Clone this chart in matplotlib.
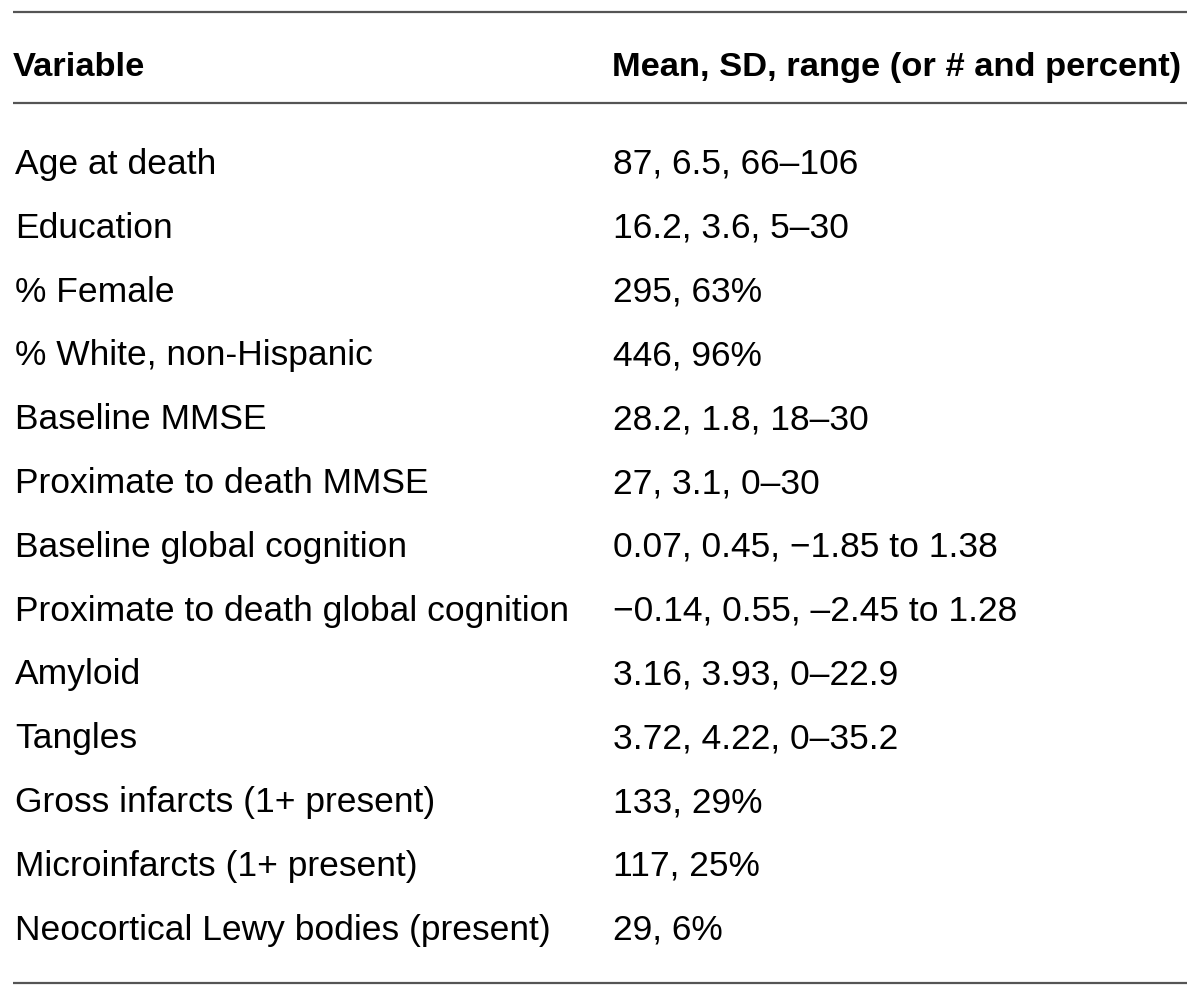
import matplotlib
matplotlib.use("Agg")
from matplotlib import pyplot as plt

# ------------------------------------------------
# Table content
# ------------------------------------------------
header_left = "Variable"
header_right = "Mean, SD, range (or # and percent)"

variables = [
    "Age at death",
    "Education",
    "% Female",
    "% White, non-Hispanic",
    "Baseline MMSE",
    "Proximate to death MMSE",
    "Baseline global cognition",
    "Proximate to death global cognition",
    "Amyloid",
    "Tangles",
    "Gross infarcts (1+ present)",
    "Microinfarcts (1+ present)",
    "Neocortical Lewy bodies (present)",
]

values = [
    "87, 6.5, 66\u2013106",
    "16.2, 3.6, 5\u201330",
    "295, 63%",
    "446, 96%",
    "28.2, 1.8, 18\u201330",
    "27, 3.1, 0\u201330",
    "0.07, 0.45, \u22121.85 to 1.38",
    "\u22120.14, 0.55, \u20132.45 to 1.28",
    "3.16, 3.93, 0\u201322.9",
    "3.72, 4.22, 0\u201335.2",
    "133, 29%",
    "117, 25%",
    "29, 6%",
]

# ------------------------------------------------
# Figure in pixel coordinates
# ------------------------------------------------
W, H = 1200, 997
fig = plt.figure(figsize=(W / 100, H / 100), dpi=100)
ax = fig.add_axes([0, 0, 1, 1])
ax.set_xlim(0, W)
ax.set_ylim(H, 0)
ax.axis("off")

family = ["Liberation Sans", "DejaVu Sans"]
fs_body = 25.5
fs_head = 24.8
x_left, x_right = 15, 613

# rules
for y in (12, 103, 983):
    ax.plot([13, 1187], [y, y], color="#555555", lw=1.6, solid_capstyle="butt")

# header
ax.text(x_left - 2, 76, header_left, fontsize=fs_head, fontweight="bold", family=family,
        va="baseline", ha="left", color="black")
ax.text(x_right - 1, 76, header_right, fontsize=fs_head, fontweight="bold", family=family,
        va="baseline", ha="left", color="black")

# body rows
y0, dy = 174, 63.8
for i, (var, val) in enumerate(zip(variables, values)):
    y = y0 + i * dy
    ax.text(x_left, y, var, fontsize=fs_body, family=family, va="baseline", ha="left", color="black")
    ax.text(x_right, y, val, fontsize=fs_body, family=family, va="baseline", ha="left", color="black")

fig.savefig("out.png", dpi=100)
